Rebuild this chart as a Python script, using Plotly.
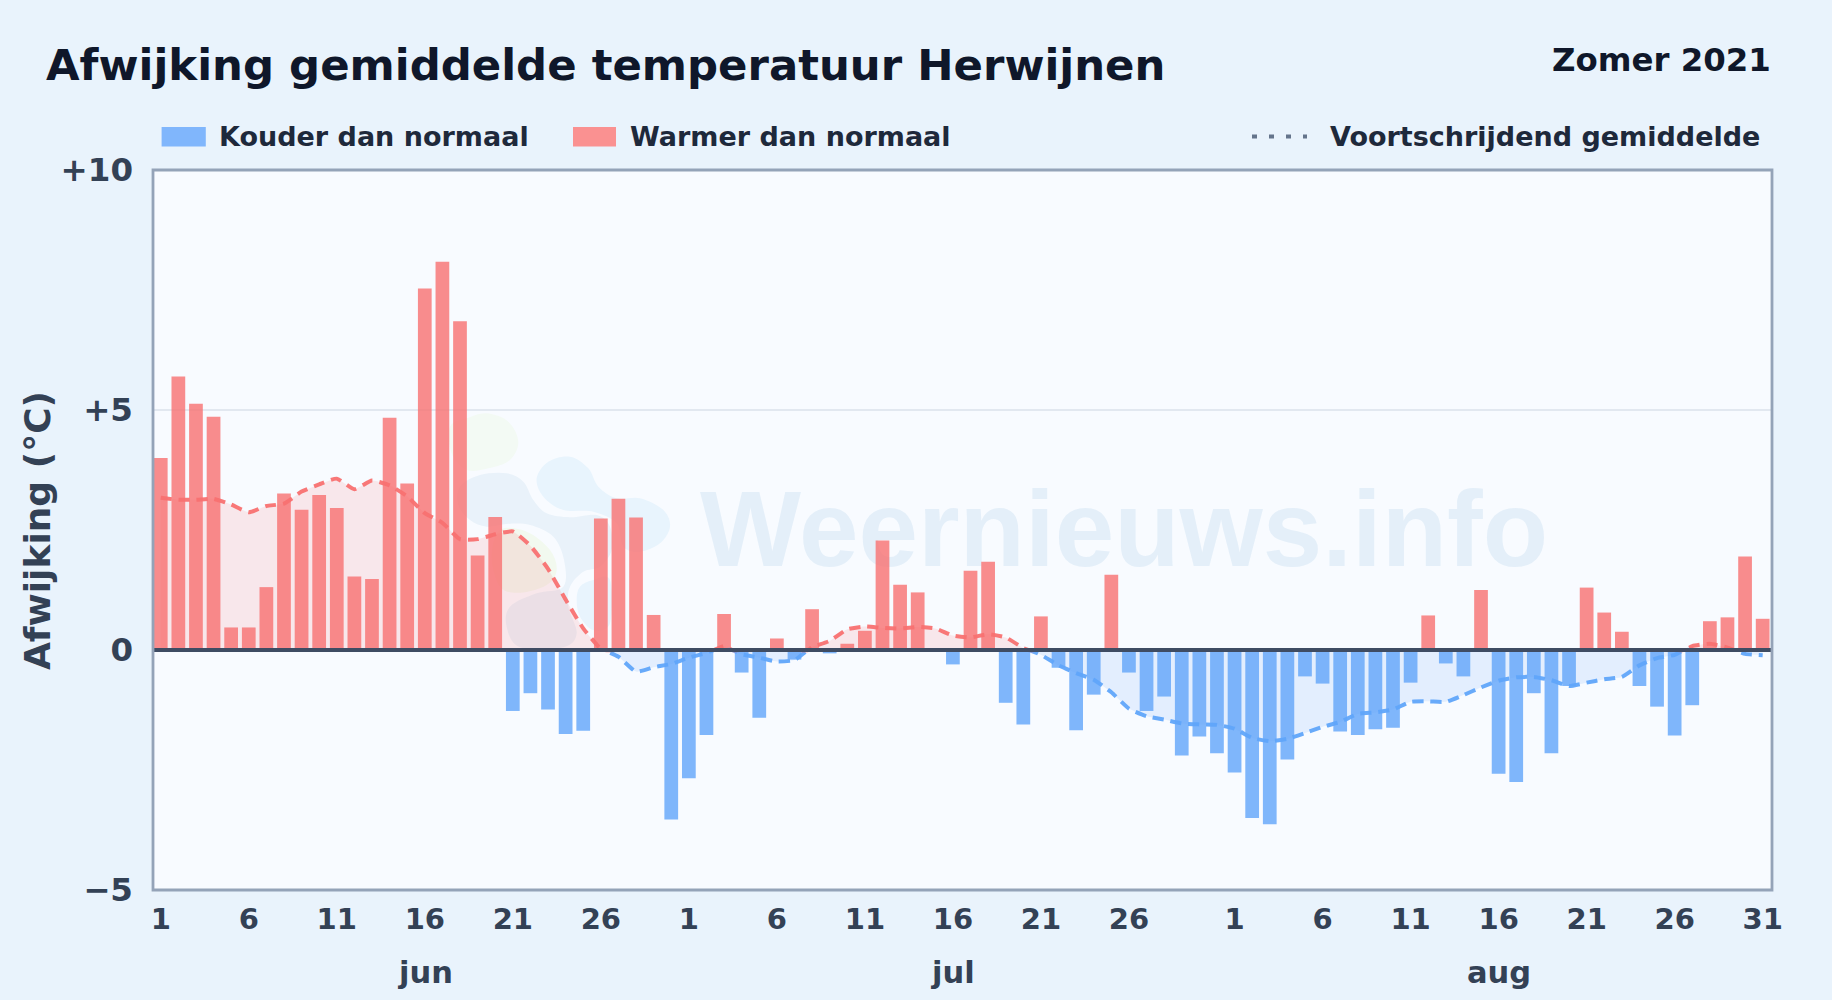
import plotly.graph_objects as go

TITLE = "Afwijking gemiddelde temperatuur Herwijnen"
SUBTITLE = "Zomer 2021"
YTITLE = "Afwijking (°C)"
MONTHS = ["jun", "jul", "aug"]
MONTH_DAYS = [30, 31, 31]
MONTH_LABEL_IDX = [15, 45, 76]
YTICKS = [-5, 0, 5, 10]
YTICKLABELS = ["−5", "0", "+5", "+10"]
LEGEND_COLD = "Kouder dan normaal"
LEGEND_WARM = "Warmer dan normaal"
LEGEND_AVG = "Voortschrijdend gemiddelde"
WATERMARK = "Weernieuws.info"

deviation = [
    4.0, 5.7, 5.13, 4.86, 0.47, 0.47, 1.31, 3.26, 2.92, 3.23,
    2.96, 1.53, 1.48, 4.84, 3.47, 7.53, 8.09, 6.85, 1.97, 2.77,
    -1.27, -0.9, -1.24, -1.75, -1.68, 2.74, 3.15, 2.76, 0.73, -3.53,
    -2.67, -1.77, 0.75, -0.47, -1.41, 0.24, -0.2, 0.85, -0.07, 0.13,
    0.4, 2.28, 1.36, 1.2, 0.0, -0.3, 1.65, 1.84, -1.1, -1.55,
    0.7, -0.37, -1.67, -0.93, 1.57, -0.47, -1.27, -0.97, -2.2, -1.8,
    -2.15, -2.55, -3.5, -3.63, -2.28, -0.55, -0.7, -1.7, -1.77, -1.65,
    -1.62, -0.68, 0.72, -0.28, -0.55, 1.25, -2.58, -2.75, -0.9, -2.15,
    -0.75, 1.3, 0.78, 0.38, -0.75, -1.18, -1.78, -1.15, 0.6, 0.68,
    1.95, 0.65,
]
moving_avg = [
    3.17, 3.13, 3.13, 3.15, 3.03, 2.87, 3.0, 3.05, 3.3, 3.45,
    3.57, 3.35, 3.53, 3.43, 3.2, 2.85, 2.65, 2.31, 2.31, 2.41,
    2.47, 2.17, 1.69, 1.05, 0.45, 0.02, -0.14, -0.45, -0.36, -0.29,
    -0.16, -0.06, 0.08, -0.09, -0.16, -0.24, -0.21, 0.06, 0.19, 0.43,
    0.49, 0.46, 0.45, 0.48, 0.45, 0.3, 0.26, 0.33, 0.26, 0.04,
    -0.1, -0.32, -0.48, -0.62, -0.88, -1.22, -1.38, -1.45, -1.53, -1.55,
    -1.56, -1.64, -1.83, -1.9, -1.85, -1.73, -1.6, -1.5, -1.33, -1.3,
    -1.24, -1.08, -1.07, -1.08, -0.94, -0.78, -0.64, -0.57, -0.56, -0.63,
    -0.75, -0.68, -0.61, -0.56, -0.32, -0.17, -0.1, 0.08, 0.13, 0.05,
    -0.08, -0.11,
]

FONT = "DejaVu Sans"
W, H = 1832, 1000
L, R, T, B = 153, 1772, 170, 890
XRANGE = [-0.44, 91.53]
YRANGE = [-5, 10]

idx = list(range(len(deviation)))
day_labels = [d + 1 for n in MONTH_DAYS for d in range(n)]
# a day is labelled every five days; July 31 is left out, the last day of the chart is kept
tickvals = [i for i, d in enumerate(day_labels)
            if (d - 1) % 5 == 0 and (d != 31 or i == len(day_labels) - 1)]
ticktext = [str(day_labels[i]) for i in tickvals]

xs, ys = [], []
for i, v in enumerate(moving_avg):
    if i and moving_avg[i - 1] * v < 0:
        p = moving_avg[i - 1]
        xs.append(i - 1 + p / (p - v))
        ys.append(0.0)
    xs.append(i)
    ys.append(v)

# page pixels -> plot-area fractions and axis units (page furniture only)
px = lambda x: (x - L) / (R - L)
py = lambda y: (B - y) / (B - T)
ax = lambda x: XRANGE[0] + px(x) * (XRANGE[1] - XRANGE[0])
ay = lambda y: YRANGE[0] + py(y) * (YRANGE[1] - YRANGE[0])


def blob(points, color):
    """closed smooth logo blob; points are in crop pixels of the logo region"""
    pts = [(420 + a / 3, 390 + b / 3) for a, b in points]
    n = len(pts)
    d = "M%.4f,%.4f" % (ax(pts[0][0]), ay(pts[0][1]))
    for i in range(n):
        p0, p1, p2, p3 = pts[i - 1], pts[i], pts[(i + 1) % n], pts[(i + 2) % n]
        c1 = (p1[0] + (p2[0] - p0[0]) / 6, p1[1] + (p2[1] - p0[1]) / 6)
        c2 = (p2[0] - (p3[0] - p1[0]) / 6, p2[1] - (p3[1] - p1[1]) / 6)
        d += " C%.4f,%.4f %.4f,%.4f %.4f,%.4f" % (ax(c1[0]), ay(c1[1]), ax(c2[0]), ay(c2[1]), ax(p2[0]), ay(p2[1]))
    return dict(type="path", path=d + " Z", xref="x", yref="y", fillcolor=color, line_width=0, layer="below")


shapes = [
    blob([(90, 110), (140, 85), (200, 70), (265, 95), (295, 155), (270, 210), (205, 235), (140, 240), (95, 190)], "#f3faf4"),
    blob([(350, 265), (385, 215), (450, 200), (505, 235), (535, 290), (590, 325), (660, 325), (730, 360), (750, 410),
          (720, 460), (660, 485), (610, 470), (590, 400), (520, 365), (430, 360), (370, 320)], "#e8f4fd"),
    blob([(480, 590), (520, 570), (570, 570), (570, 700), (520, 720), (480, 680), (470, 630)], "#e8f4fd"),
    blob([(120, 290), (180, 255), (260, 250), (310, 275), (340, 330), (380, 370), (450, 382), (530, 375), (570, 410),
          (575, 480), (540, 530), (490, 545), (450, 590), (445, 650), (470, 730), (430, 772), (300, 772), (260, 710),
          (270, 650), (350, 610), (430, 590), (432, 510), (400, 440), (330, 405), (260, 402), (200, 410), (150, 390),
          (115, 345)], "#e9f2fa"),
    blob([(240, 420), (320, 425), (390, 480), (410, 540), (380, 585), (300, 608), (240, 590), (215, 500)], "#f2f9ef"),
]
shapes += [
    dict(type="line", xref="x domain", yref="y", x0=0, x1=1, y0=0, y1=0,
         line=dict(color="#3f4c63", width=4), layer="above"),
    dict(type="rect", xref="paper", yref="paper", x0=0, x1=1, y0=0, y1=1,
         line=dict(color="#94a3b8", width=2.8), layer="above"),
    dict(type="rect", xref="paper", yref="paper", x0=px(161.6), x1=px(205.8), y0=py(146.5), y1=py(127),
         fillcolor="#80b6fc", line_width=0),
    dict(type="rect", xref="paper", yref="paper", x0=px(573), x1=px(616), y0=py(146.5), y1=py(127),
         fillcolor="#fa9191", line_width=0),
    dict(type="line", xref="paper", yref="paper", x0=px(1252), x1=px(1307), y0=py(136.5), y1=py(136.5),
         line=dict(color="#64748b", width=4, dash="5px,12px")),
]

fig = go.Figure()
# watermark sits on the base axes so that the data overlay is drawn over it
fig.add_scatter(x=[ax(1124)], y=[ay(539)], mode="text", text=[WATERMARK], textposition="middle center",
                textfont=dict(family="Liberation Sans", size=107, weight="bold", color="rgba(150,195,225,0.2)"),
                hoverinfo="skip", showlegend=False, cliponaxis=False)
fig.add_bar(x=idx, y=[v if v < 0 else None for v in deviation], width=0.78, xaxis="x2", yaxis="y2",
            marker=dict(color="#60a5fa", opacity=0.8, line_width=0), name=LEGEND_COLD)
fig.add_bar(x=idx, y=[v if v >= 0 else None for v in deviation], width=0.78, xaxis="x2", yaxis="y2",
            marker=dict(color="#f87171", opacity=0.8, line_width=0), name=LEGEND_WARM)
fig.add_scatter(x=xs, y=[min(v, 0) for v in ys], mode="lines", name=LEGEND_AVG + " (koud)", xaxis="x2", yaxis="y2",
                line=dict(color="rgba(96,165,250,0.95)", width=4, dash="11px,7px", shape="spline", smoothing=0.5),
                fill="tozeroy", fillcolor="rgba(96,165,250,0.14)")
fig.add_scatter(x=xs, y=[max(v, 0) for v in ys], mode="lines", name=LEGEND_AVG + " (warm)", xaxis="x2", yaxis="y2",
                line=dict(color="rgba(248,113,113,0.95)", width=4, dash="11px,7px", shape="spline", smoothing=0.5),
                fill="tozeroy", fillcolor="rgba(248,113,113,0.14)")


def text(s, x, y, size, color, anchor="left", **kw):
    return dict(text=s, xref="paper", yref="paper", x=px(x), y=py(y), showarrow=False, xanchor=anchor,
                yanchor="middle", font=dict(family=FONT, size=size, color=color), **kw)


ann = [
    text("<b>%s</b>" % TITLE, 44.2, 65.5, 43.4, "#0f172a"),
    text("<b>%s</b>" % SUBTITLE, 1773, 59.5, 32.4, "#0f172a", "right"),
    text("<b>%s</b>" % LEGEND_COLD, 217.2, 136.5, 27, "#1e293b"),
    text("<b>%s</b>" % LEGEND_WARM, 627.7, 136.5, 27, "#1e293b"),
    text("<b>%s</b>" % LEGEND_AVG, 1762, 136.5, 27, "#1e293b", "right"),
    text("<b>%s</b>" % YTITLE, 37, 530, 36, "#334155", "center", textangle=-90),
]
for m, i in zip(MONTHS, MONTH_LABEL_IDX):
    ann.append(dict(text="<b>%s</b>" % m, xref="x", yref="paper", x=i, y=py(972), showarrow=False, yanchor="middle",
                    font=dict(family=FONT, size=30.5, color="#334155")))

fig.update_layout(
    width=W, height=H, barmode="overlay", showlegend=False,
    margin=dict(l=L, r=W - R, t=T, b=H - B),
    paper_bgcolor="#e9f3fc", plot_bgcolor="#f8fbff",
    font=dict(family=FONT, color="#334155"),
    shapes=shapes, annotations=ann,
    xaxis=dict(range=XRANGE, tickmode="array", tickvals=tickvals, ticktext=ticktext, tickangle=0,
               showgrid=False, zeroline=False, ticks="", showline=False,
               tickfont=dict(size=29, weight="bold", color="#334155"), ticklabelstandoff=9),
    yaxis=dict(range=YRANGE, tickmode="array", tickvals=YTICKS, ticktext=YTICKLABELS,
               showgrid=True, gridcolor="#e2e8f0", gridwidth=2, zeroline=False, ticks="", showline=False,
               ticklabelstandoff=19, tickfont=dict(size=32.5, weight="bold", color="#334155")),
    xaxis2=dict(range=XRANGE, overlaying="x", visible=False),
    yaxis2=dict(range=YRANGE, overlaying="y", visible=False),
)
fig.write_html("out.html", config=dict(displayModeBar=False),
               post_script="document.body.style.margin='0';document.body.style.background='#e9f3fc';")
